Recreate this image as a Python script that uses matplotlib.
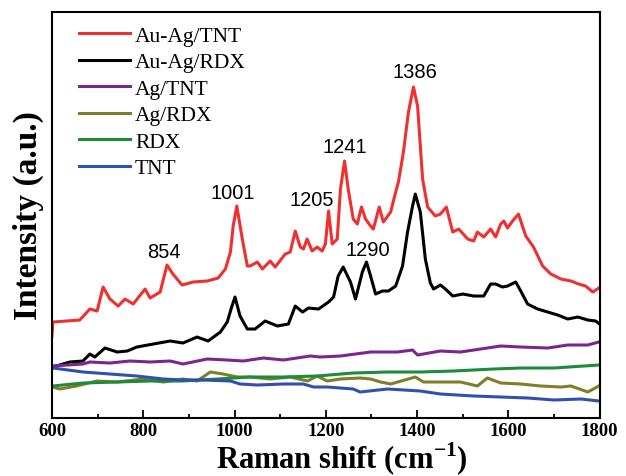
import matplotlib
matplotlib.use('Agg')
import matplotlib.pyplot as plt
from matplotlib.ticker import MultipleLocator, NullLocator

plt.rcParams['mathtext.fontset'] = 'custom'
plt.rcParams['mathtext.rm'] = 'Liberation Serif:bold'
plt.rcParams['mathtext.bf'] = 'Liberation Serif:bold'

#----------------------------- dados -----------------------------
# Raman shift (cm-1) e intensidade (u.a.)

auag_tnt_x = [600, 602, 661, 683, 699, 712, 727, 745, 760, 778, 804, 815, 837, 852, 865,
              885, 909, 940, 964, 980, 991, 997, 1005, 1017, 1028, 1034, 1050, 1061, 1078,
              1089, 1111, 1122, 1133, 1144, 1151, 1159, 1170, 1181, 1192, 1199, 1206, 1214,
              1225, 1232, 1241, 1249, 1260, 1269, 1278, 1287, 1298, 1304, 1317, 1326, 1342,
              1353, 1359, 1370, 1381, 1392, 1401, 1412, 1423, 1440, 1451, 1464, 1478, 1491,
              1511, 1524, 1532, 1546, 1561, 1572, 1583, 1590, 1598, 1609, 1622, 1638, 1655,
              1675, 1693, 1715, 1737, 1754, 1769, 1785, 1798]
auag_tnt_y = [82, 96, 98, 109, 107, 131, 119, 112, 119, 114, 129, 120, 126, 153, 144,
              133, 136, 137, 140, 149, 166, 192, 212, 179, 152, 152, 156, 149, 157,
              151, 164, 166, 187, 171, 169, 179, 167, 171, 167, 174, 207, 174,
              179, 229, 257, 229, 199, 194, 211, 199, 192, 189, 211, 196, 206,
              226, 236, 266, 306, 331, 312, 239, 211, 202, 204, 211, 186, 189,
              179, 177, 186, 181, 189, 181, 194, 197, 190, 197, 204, 182, 171,
              152, 144, 139, 137, 134, 132, 126, 130]

auag_rdx_x = [602, 639, 668, 683, 694, 716, 743, 765, 786, 822, 859, 887, 918, 942, 969,
              984, 993, 1001, 1012, 1028, 1045, 1067, 1094, 1118, 1133, 1149, 1162, 1184,
              1206, 1217, 1227, 1238, 1254, 1265, 1280, 1289, 1298, 1309, 1324, 1337, 1353,
              1368, 1379, 1390, 1396, 1407, 1418, 1429, 1436, 1451, 1462, 1478, 1500, 1524,
              1546, 1561, 1572, 1587, 1598, 1616, 1627, 1642, 1664, 1686, 1708, 1730, 1752,
              1774, 1791, 1800]
auag_rdx_y = [51, 56, 57, 64, 61, 70, 66, 67, 71, 74, 77, 75, 81, 77, 86,
              96, 110, 121, 102, 89, 89, 97, 92, 94, 112, 106, 110, 109,
              116, 121, 142, 151, 136, 119, 146, 156, 142, 124, 127, 127, 132,
              152, 186, 212, 224, 206, 159, 135, 129, 133, 129, 122, 124, 122,
              122, 134, 134, 131, 132, 136, 127, 114, 109, 106, 103, 99, 101,
              98, 97, 94]

ag_tnt_x = [600, 668, 683, 727, 771, 815, 859, 887, 940, 984, 1019, 1063, 1107, 1166, 1188,
            1232, 1298, 1357, 1390, 1401, 1451, 1495, 1539, 1583, 1627, 1686, 1730, 1774, 1798]
ag_tnt_y = [52, 54, 56, 55, 57, 56, 57, 54, 59, 58, 57, 60, 58, 62, 61,
            62, 66, 66, 68, 63, 67, 66, 69, 72, 71, 70, 73, 73, 76]

ag_rdx_x = [602, 617, 654, 698, 743, 800, 844, 887, 918, 947, 975, 1006, 1034, 1078, 1122,
            1160, 1181, 1203, 1232, 1275, 1298, 1320, 1342, 1396, 1414, 1451, 1495, 1532,
            1554, 1583, 1627, 1671, 1715, 1737, 1774, 1798]
ag_rdx_y = [31, 29, 32, 37, 36, 39, 36, 39, 37, 46, 44, 41, 41, 39, 41,
            37, 42, 37, 39, 40, 39, 36, 34, 41, 36, 36, 36, 32,
            40, 35, 34, 32, 31, 32, 26, 32]

rdx_x = [602, 668, 743, 815, 887, 962, 1034, 1107, 1181, 1260, 1335, 1407, 1480, 1568,
         1627, 1700, 1798]
rdx_y = [32, 35, 36, 37, 37, 39, 41, 41, 42, 45, 46, 46, 47, 49, 50, 50, 53]

tnt_x = [602, 668, 727, 786, 844, 887, 931, 991, 1012, 1050, 1107, 1151, 1173, 1203,
         1260, 1275, 1335, 1407, 1451, 1524, 1583, 1642, 1700, 1759, 1798]
tnt_y = [50, 46, 44, 42, 39, 38, 38, 37, 34, 33, 34, 34, 31, 31,
         29, 26, 29, 27, 24, 22, 21, 20, 18, 19, 17]

series = [('Au-Ag/TNT', auag_tnt_x, auag_tnt_y, '#f03030'),
          ('Au-Ag/RDX', auag_rdx_x, auag_rdx_y, '#000000'),
          ('Ag/TNT', ag_tnt_x, ag_tnt_y, '#7b2590'),
          ('Ag/RDX', ag_rdx_x, ag_rdx_y, '#7f7f2a'),
          ('RDX', rdx_x, rdx_y, '#1e8a3c'),
          ('TNT', tnt_x, tnt_y, '#3050b0')]

picos_txt = ['854', '1001', '1205', '1241', '1290', '1386']
picos_x = [846, 995, 1170, 1241, 1291, 1396]
picos_y = [167, 226, 219, 272, 169, 347]

#-------------------------------- Plotando grafico --------------------------------

fig = plt.figure(figsize=(6.26, 4.77), dpi=100)
ax = fig.add_axes([0.083, 0.1216, 0.875, 0.851])

for nome, xs, ys, cor in series:
    ax.plot(xs, ys, color=cor, lw=2.2, label=nome)

for txt, px, py in zip(picos_txt, picos_x, picos_y):
    ax.text(px, py, txt, ha='center', va='center', fontsize=14.5,
            family='Liberation Sans')

ax.set_xlim(600, 1800)
ax.set_ylim(0, 406)
ax.xaxis.set_major_locator(MultipleLocator(200))
ax.xaxis.set_minor_locator(MultipleLocator(100))
ax.yaxis.set_major_locator(NullLocator())
ax.tick_params(axis='x', which='major', direction='in', length=6, width=1.3, pad=3)
ax.tick_params(axis='x', which='minor', direction='in', length=3, width=1.3)
for lab in ax.get_xticklabels():
    lab.set_family('Liberation Serif')
    lab.set_fontweight('bold')
    lab.set_fontsize(13.5)
for sp in ax.spines.values():
    sp.set_linewidth(1.5)

ax.set_xlabel('Raman shift (cm$^{-1}$)', family='Liberation Serif',
              fontweight='bold', fontsize=22)
ax.xaxis.label.set_va('baseline')
ax.xaxis.set_label_coords(0.530, -0.124)
ax.set_ylabel('Intensity (a.u.)', family='Liberation Serif',
              fontweight='bold', fontsize=24, labelpad=6)

leg = ax.legend(loc='upper left', bbox_to_anchor=(0.0336, 0.988), borderaxespad=0,
                frameon=False, handlelength=2.37,
                prop={'family': 'Liberation Serif', 'size': 15.5},
                labelspacing=0.3, handletextpad=0.23)

fig.savefig('out.png', dpi=100)
